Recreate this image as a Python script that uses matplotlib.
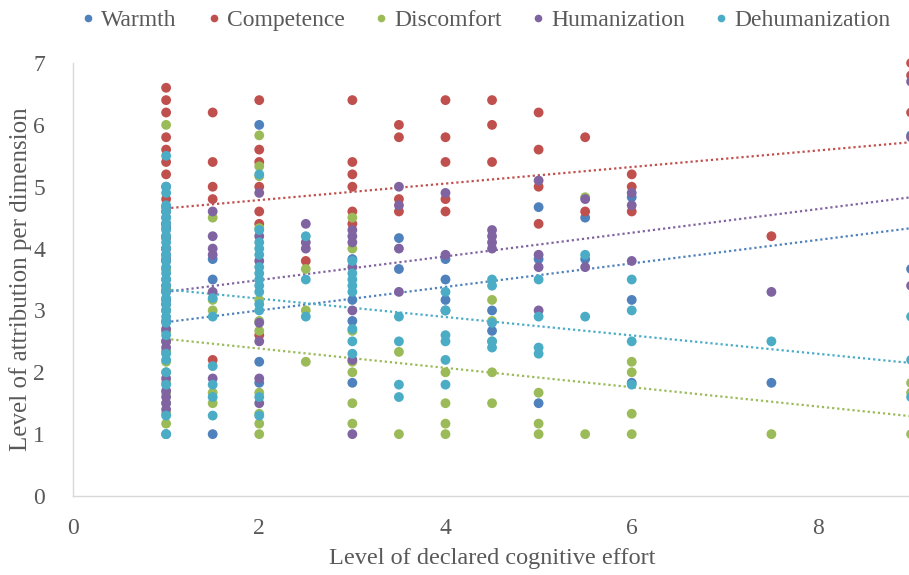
import matplotlib
matplotlib.use("Agg")
import matplotlib.pyplot as plt
from matplotlib.lines import Line2D

# series names and colours (Excel-like palette)
series_names = ["Warmth", "Competence", "Discomfort", "Humanization", "Dehumanization"]
series_colors = ["#4F81BD", "#C0504D", "#9BBB59", "#8064A2", "#4BACC6"]

# values: {declared effort: [attribution levels]}
warmth = {
    1: [5.0, 4.67, 4.5, 4.33, 4.17, 4.0, 3.83, 3.67, 3.5, 3.33, 3.17, 3.0, 2.83, 2.67, 2.5, 2.33, 1.0],
    1.5: [3.83, 3.5, 1.0],
    2: [6.0, 2.17, 1.83],
    3: [3.83, 3.17, 2.83, 1.83],
    3.5: [4.17, 3.67],
    4: [3.83, 3.5, 3.17, 3.0],
    4.5: [3.0, 2.67],
    5: [4.67, 3.83, 1.5],
    5.5: [4.5, 3.83],
    6: [4.83, 3.17, 1.83],
    7.5: [1.83],
    9: [5.83, 3.67],
}
competence = {
    1: [6.6, 6.4, 6.2, 5.8, 5.6, 5.4, 5.2, 4.8, 4.6, 4.4, 4.2, 4.0, 3.8, 3.4],
    1.5: [6.2, 5.4, 5.0, 4.8, 2.2],
    2: [6.4, 5.6, 5.4, 5.0, 4.6, 4.4, 2.6],
    2.5: [3.8],
    3: [6.4, 5.4, 5.2, 5.0, 4.6, 4.4],
    3.5: [6.0, 5.8, 4.8, 4.6],
    4: [6.4, 5.8, 5.4, 4.8, 4.6],
    4.5: [6.4, 6.0, 5.4],
    5: [6.2, 5.6, 5.0, 4.4],
    5.5: [5.8, 4.6],
    6: [5.2, 5.0, 4.6],
    7.5: [4.2],
    9: [7.0, 6.8, 6.2],
}
discomfort = {
    1: [6.0, 3.67, 3.33, 3.0, 2.67, 2.5, 2.33, 2.17, 2.0, 1.83, 1.67, 1.5, 1.33, 1.17],
    1.5: [4.5, 3.17, 3.0, 1.67, 1.5],
    2: [5.83, 5.33, 5.17, 4.33, 3.17, 2.83, 2.67, 1.67, 1.33, 1.17, 1.0],
    2.5: [3.67, 3.0, 2.17],
    3: [4.5, 4.0, 2.67, 2.17, 2.0, 1.5, 1.17],
    3.5: [2.33, 1.0],
    4: [2.0, 1.5, 1.17, 1.0],
    4.5: [3.17, 2.83, 2.5, 2.0, 1.5],
    5: [1.67, 1.17, 1.0],
    5.5: [4.83, 1.0],
    6: [2.17, 2.0, 1.33, 1.0],
    7.5: [1.0],
    9: [1.83, 1.67, 1.0],
}
humanization = {
    1: [4.4, 3.9, 3.3, 3.1, 2.7, 2.5, 2.4, 1.9, 1.7, 1.6, 1.5, 1.4],
    1.5: [4.6, 4.2, 4.0, 3.9, 3.3, 1.9],
    2: [4.9, 4.2, 3.8, 2.8, 2.5, 1.9, 1.5],
    2.5: [4.4, 4.1, 4.0],
    3: [4.3, 4.2, 4.1, 3.7, 3.0, 2.2, 1.0],
    3.5: [5.0, 4.7, 4.0, 3.3],
    4: [4.9, 3.9],
    4.5: [4.3, 4.2, 4.1, 4.0],
    5: [5.1, 3.9, 3.7, 3.0],
    5.5: [4.8, 3.7],
    6: [4.9, 4.7, 3.8],
    7.5: [3.3],
    9: [6.7, 5.8, 3.4],
}
dehumanization = {
    1: [5.5, 5.0, 4.9, 4.7, 4.6, 4.5, 4.4, 4.3, 4.2, 4.1, 4.0, 3.9, 3.8, 3.7, 3.6, 3.5, 3.4,
        3.3, 3.2, 3.1, 3.0, 2.9, 2.8, 2.6, 2.3, 2.2, 2.0, 1.8, 1.3, 1.0],
    1.5: [3.2, 2.9, 2.1, 1.8, 1.6, 1.3],
    2: [5.2, 4.3, 4.1, 4.0, 3.9, 3.7, 3.6, 3.5, 3.4, 3.3, 3.1, 3.0, 1.6, 1.3],
    2.5: [4.2, 3.5, 2.9],
    3: [3.8, 3.6, 3.5, 3.4, 3.3, 2.7, 2.5, 2.3],
    3.5: [2.9, 2.5, 1.8, 1.6],
    4: [3.3, 3.0, 2.6, 2.5, 2.2, 1.8],
    4.5: [3.5, 3.4, 2.8, 2.5, 2.4],
    5: [3.5, 2.9, 2.4, 2.3],
    5.5: [3.9, 2.9],
    6: [3.5, 3.0, 2.5, 1.8],
    7.5: [2.5],
    9: [2.9, 2.2, 1.6],
}

# linear trend lines, value at x=1 and x=9
trend_x = [1, 9]
trend_warmth = [2.81, 4.33]
trend_competence = [4.65, 5.72]
trend_discomfort = [2.54, 1.29]
trend_humanization = [3.30, 4.83]
trend_dehumanization = [3.34, 2.15]

all_series = [warmth, competence, discomfort, humanization, dehumanization]
all_trends = [trend_warmth, trend_competence, trend_discomfort, trend_humanization, trend_dehumanization]

plt.rcParams['font.family'] = ['Liberation Serif', 'DejaVu Serif']

fig = plt.figure(figsize=(9.09, 5.75), dpi=100)
ax = fig.add_axes([0.0803, 0.1374, 0.922, 0.753])

for data, color in zip(all_series, series_colors):
    xs = [x for x, ys in data.items() for _ in ys]
    ys = [y for _, vals in data.items() for y in vals]
    ax.scatter(xs, ys, s=50, color=color, edgecolors='none', zorder=3, clip_on=False)

for tr, color in zip(all_trends, series_colors):
    ax.plot(trend_x, tr, color=color, lw=1.6, linestyle=(0, (1, 1.3)), zorder=2)

ax.set_xlim(0, 9)
ax.set_ylim(0, 7)
ax.set_xticks([0, 2, 4, 6, 8])
ax.set_yticks(range(0, 8))

for side in ['top', 'right']:
    ax.spines[side].set_visible(False)
for side in ['left', 'bottom']:
    ax.spines[side].set_color('#D9D9D9')
    ax.spines[side].set_linewidth(1.0)

ax.tick_params(length=0, labelsize=17, colors='#595959', pad=16)
ax.tick_params(axis='y', pad=20)
ax.set_xlabel('Level of declared cognitive effort', fontsize=17.5, color='#595959', labelpad=6)
ax.set_ylabel('Level of attribution per dimension', fontsize=18, color='#595959', labelpad=1)

handles = [Line2D([], [], marker='o', linestyle='none', markersize=5.5, color=c, markeredgewidth=0)
           for c in series_colors]
fig.legend(handles, series_names, loc='center', bbox_to_anchor=(0.532, 0.965), ncol=5,
           frameon=False, fontsize=17, handletextpad=0.05, columnspacing=1.05,
           labelcolor='#595959', handlelength=1.0)

fig.savefig('out.png', dpi=100)
